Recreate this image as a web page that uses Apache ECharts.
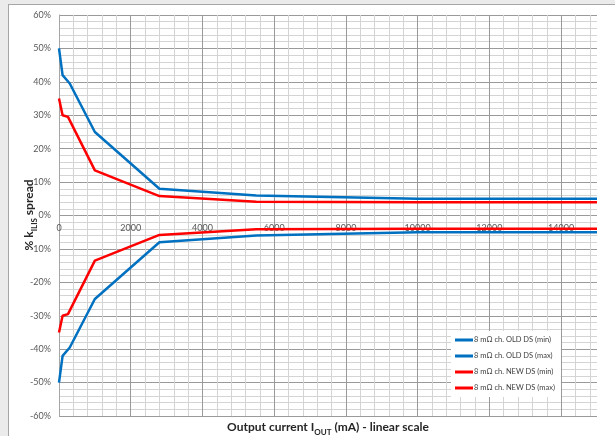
<!DOCTYPE html>
<html><head><meta charset="utf-8">
<script src="https://cdn.jsdelivr.net/npm/echarts@6/dist/echarts.min.js"></script>
<style>
html,body{margin:0;padding:0;background:#ebebeb;width:615px;height:436px;overflow:hidden}
#frame{position:absolute;left:8px;top:4px;width:620px;height:440px;background:#fff;border-left:1px solid #a6a6a6;border-top:1px solid #a6a6a6}
#main{position:absolute;left:0;top:0;width:615px;height:436px}
</style></head><body><div id="frame"></div><div id="main"></div>
<script>
// ---- data ----
const currentOld = [0, 100, 300, 1000, 2800, 5500, 10000, 15000];
const oldMin = [-50, -42, -39.5, -25, -8, -6, -5, -5];
const oldMax = [50, 42, 39.5, 25, 8, 6, 5, 5];
const currentNew = [0, 100, 250, 1000, 2800, 5500, 10000, 15000];
const newMin = [-35, -30, -29.5, -13.5, -5.8, -4.1, -4, -4];
const newMax = [35, 30, 29.5, 13.5, 5.8, 4.1, 4, 4];
const seriesNames = ['8 mΩ ch. OLD DS (min)', '8 mΩ ch. OLD DS (max)', '8 mΩ ch. NEW DS (min)', '8 mΩ ch. NEW DS (max)'];
const xMin = 0, xMax = 15000, xLabelStep = 2000, xMinorStep = 400;
const yMin = -60, yMax = 60, yLabelStep = 10, yMinorStep = 2;

const BLUE = '#0070C0', RED = '#FF0000';
const FONT = 'Lato, "Liberation Sans", sans-serif';
const gridColors = ['#9a9a9a', '#d4d4d4', '#d4d4d4', '#d4d4d4', '#d4d4d4'];
const GRID_TOP = 15, GRID_H = 401;

function pairs(xs, ys) { return xs.map((x, i) => [x, ys[i]]); }
function mk(name, xs, ys, color) {
  return { name, type: 'line', data: pairs(xs, ys), symbol: 'none', smooth: false,
    lineStyle: { color, width: 2.5 }, itemStyle: { color }, emphasis: { disabled: true } };
}
const titleRich = {
  a: { fontSize: 12, fontWeight: 'bold', fill: '#262626', fontFamily: FONT, lineHeight: 16, verticalAlign: 'bottom' },
  s: { fontSize: 8, fontWeight: 'bold', fill: '#262626', fontFamily: FONT, lineHeight: 16, verticalAlign: 'bottom', padding: [0, 0, -3, 0] }
};
// x labels sit on the 0 % line: shift the bottom axis up by the distance from 0 to yMin
const zeroOffset = -GRID_H * (0 - yMin) / (yMax - yMin);

const chart = echarts.init(document.getElementById('main'), null, { renderer: 'canvas' });
chart.setOption({
  animation: false,
  textStyle: { fontFamily: FONT },
  grid: { left: 59, top: GRID_TOP, width: 538, height: GRID_H, containLabel: false },
  xAxis: {
    type: 'value', min: xMin, max: xMax, interval: xMinorStep, position: 'bottom', offset: zeroOffset,
    axisLine: { show: false, onZero: false }, axisTick: { show: false },
    axisLabel: { color: '#595959', fontSize: 9, fontFamily: FONT, margin: 8,
      formatter: v => (v % xLabelStep === 0 && v < xMax) ? String(v) : '' },
    splitLine: { show: true, showMaxLine: false, lineStyle: { color: gridColors, width: 1 } }
  },
  yAxis: {
    type: 'value', min: yMin, max: yMax, interval: yMinorStep,
    axisLine: { show: true, onZero: false, lineStyle: { color: '#a6a6a6', width: 1 } }, axisTick: { show: false },
    axisLabel: { color: '#595959', fontSize: 9, fontFamily: FONT, margin: 8,
      formatter: v => (v % yLabelStep === 0) ? v + '%' : '' },
    splitLine: { show: true, lineStyle: { color: gridColors, width: 1 } }
  },
  legend: {
    data: seriesNames, orient: 'vertical', left: 451, top: 331,
    backgroundColor: '#ffffff', padding: [4, 6, 4, 4],
    icon: 'rect', itemWidth: 18, itemHeight: 3, itemGap: 6,
    textStyle: { fontSize: 7.5, color: '#404040', fontFamily: FONT, lineHeight: 10, padding: [0, 0, 0, -4] }
  },
  graphic: [{
    type: 'text', x: 328, y: 425,
    style: { text: '{a|Output current I}{s|OUT}{a| (mA) - linear scale}', align: 'center', verticalAlign: 'middle', rich: titleRich }
  }, {
    type: 'text', x: 27, y: 215, rotation: Math.PI / 2,
    style: { text: '{a|% k}{s|ILIS}{a| spread}', align: 'center', verticalAlign: 'middle', rich: titleRich }
  }],
  series: [
    mk(seriesNames[0], currentOld, oldMin, BLUE),
    mk(seriesNames[1], currentOld, oldMax, BLUE),
    mk(seriesNames[2], currentNew, newMin, RED),
    mk(seriesNames[3], currentNew, newMax, RED)
  ]
});
</script></body></html>
